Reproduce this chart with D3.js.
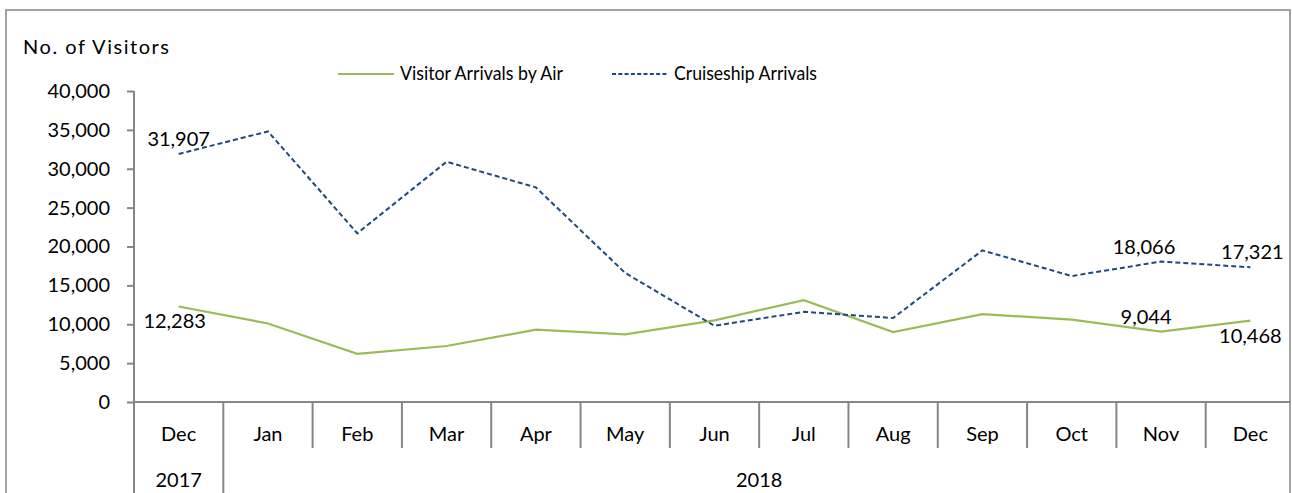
<!DOCTYPE html>
<html>
<head>
  <title>Visitor Arrivals</title>
  <script src="https://d3js.org/d3.v7.min.js"></script>
  <style>
    body { margin: 0; background: #fff; }
    text { font-family: Lato, "Noto Sans", sans-serif; fill: #000; }
  </style>
</head>
<body>
  <script>
    // Chart data
    var months = ["Dec", "Jan", "Feb", "Mar", "Apr", "May", "Jun", "Jul", "Aug", "Sep", "Oct", "Nov", "Dec"];
    var years = [{label: "2017", from: 0, to: 1}, {label: "2018", from: 1, to: 13}];
    var airArrivals = [12283, 10100, 6200, 7200, 9300, 8700, 10500, 13100, 9000, 11300, 10600, 9044, 10468];
    var cruiseArrivals = [31907, 34800, 21700, 30900, 27600, 16600, 9800, 11600, 10800, 19500, 16200, 18066, 17321];
    var yTicks = [0, 5000, 10000, 15000, 20000, 25000, 30000, 35000, 40000];

    // which points carry a value label, and where
    var airLabels = [{i: 0, pos: "below", dx: -4}, {i: 11, pos: "above", dx: -15}, {i: 12, pos: "below", dx: 0}];
    var cruiseLabels = [{i: 0, pos: "above", dx: 0}, {i: 11, pos: "above", dx: -17}, {i: 12, pos: "above", dx: 2}];

    var W = 1292, H = 493;
    var plot = {left: 134, right: 1295, top: 91, bottom: 402};
    var green = "#9BBB59", blue = "#1F497D", axisGrey = "#868686";

    var svg = d3.select("body").append("svg")
      .attr("width", W)
      .attr("height", H);

    var x = d3.scaleBand()
      .domain(d3.range(months.length))
      .range([plot.left, plot.right])
      .padding(0);

    var y = d3.scaleLinear()
      .domain([0, 40000])
      .range([plot.bottom, plot.top]);

    var cx = function(i) { return x(i) + x.bandwidth() / 2; };

    // outer frame
    svg.append("rect")
      .attr("x", 6).attr("y", 10)
      .attr("width", 1284).attr("height", 500)
      .attr("fill", "none")
      .attr("stroke", axisGrey)
      .attr("stroke-width", 1.5);

    // y axis
    var yAxis = d3.axisLeft(y)
      .tickValues(yTicks)
      .tickSize(7)
      .tickPadding(17)
      .tickFormat(d3.format(","));

    var gy = svg.append("g")
      .attr("transform", "translate(" + plot.left + ",0)")
      .call(yAxis);
    gy.select(".domain").remove();
    gy.selectAll(".tick line").attr("stroke", axisGrey).attr("stroke-width", 2);
    gy.selectAll(".tick text").style("font-size", "20px").attr("fill", "#000");

    // vertical axis line continues down through the category rows
    svg.append("line")
      .attr("x1", plot.left).attr("x2", plot.left)
      .attr("y1", plot.top).attr("y2", H + 5)
      .attr("stroke", axisGrey).attr("stroke-width", 2);

    // x axis baseline
    svg.append("line")
      .attr("x1", plot.left).attr("x2", 1290)
      .attr("y1", y(0)).attr("y2", y(0))
      .attr("stroke", axisGrey).attr("stroke-width", 2);

    // month separators
    svg.selectAll(".sep")
      .data(d3.range(1, months.length))
      .enter().append("line")
      .attr("x1", function(i) { return x(i); })
      .attr("x2", function(i) { return x(i); })
      .attr("y1", y(0))
      .attr("y2", function(i) { return years.some(function(yr) { return yr.from === i; }) ? H + 5 : 448; })
      .attr("stroke", axisGrey)
      .attr("stroke-width", 2);

    // month labels
    svg.selectAll(".month")
      .data(months)
      .enter().append("text")
      .attr("x", function(d, i) { return cx(i); })
      .attr("y", 441)
      .attr("text-anchor", "middle")
      .style("font-size", "20px")
      .text(function(d) { return d; });

    // year labels
    svg.selectAll(".year")
      .data(years)
      .enter().append("text")
      .attr("x", function(d) { return (x(d.from) + x(d.to - 1) + x.bandwidth()) / 2; })
      .attr("y", 487)
      .attr("text-anchor", "middle")
      .style("font-size", "20px")
      .text(function(d) { return d.label; });

    // axis title
    svg.append("text")
      .attr("x", 23)
      .attr("y", 54)
      .attr("textLength", 146)
      .attr("lengthAdjust", "spacing")
      .style("font-size", "20px")
      .text("No. of Visitors");

    // lines
    var line = d3.line()
      .x(function(d, i) { return cx(i); })
      .y(function(d) { return y(d); });

    svg.append("path")
      .datum(airArrivals)
      .attr("d", line)
      .attr("fill", "none")
      .attr("stroke", green)
      .attr("stroke-width", 2.2);

    svg.append("path")
      .datum(cruiseArrivals)
      .attr("d", line)
      .attr("fill", "none")
      .attr("stroke", blue)
      .attr("stroke-width", 2)
      .attr("stroke-dasharray", "5,3");

    // value labels
    function addLabels(values, labels) {
      svg.selectAll(null)
        .data(labels)
        .enter().append("text")
        .attr("x", function(d) { return cx(d.i) + d.dx; })
        .attr("y", function(d) { return y(values[d.i]) + (d.pos === "above" ? -8 : 22); })
        .attr("text-anchor", "middle")
        .style("font-size", "20px")
        .text(function(d) { return d3.format(",")(values[d.i]); });
    }
    addLabels(airArrivals, airLabels);
    addLabels(cruiseArrivals, cruiseLabels);

    // legend
    var legend = svg.append("g");
    legend.append("line")
      .attr("x1", 338).attr("x2", 394).attr("y1", 74).attr("y2", 74)
      .attr("stroke", green).attr("stroke-width", 2.2);
    legend.append("text")
      .attr("x", 400).attr("y", 80)
      .attr("textLength", 163)
      .attr("lengthAdjust", "spacingAndGlyphs")
      .style("font-size", "20px")
      .text("Visitor Arrivals by Air");
    legend.append("line")
      .attr("x1", 612).attr("x2", 668).attr("y1", 74).attr("y2", 74)
      .attr("stroke", blue).attr("stroke-width", 2)
      .attr("stroke-dasharray", "4,2.3");
    legend.append("text")
      .attr("x", 674).attr("y", 80)
      .attr("textLength", 143)
      .attr("lengthAdjust", "spacingAndGlyphs")
      .style("font-size", "20px")
      .text("Cruiseship Arrivals");
  </script>
</body>
</html>
